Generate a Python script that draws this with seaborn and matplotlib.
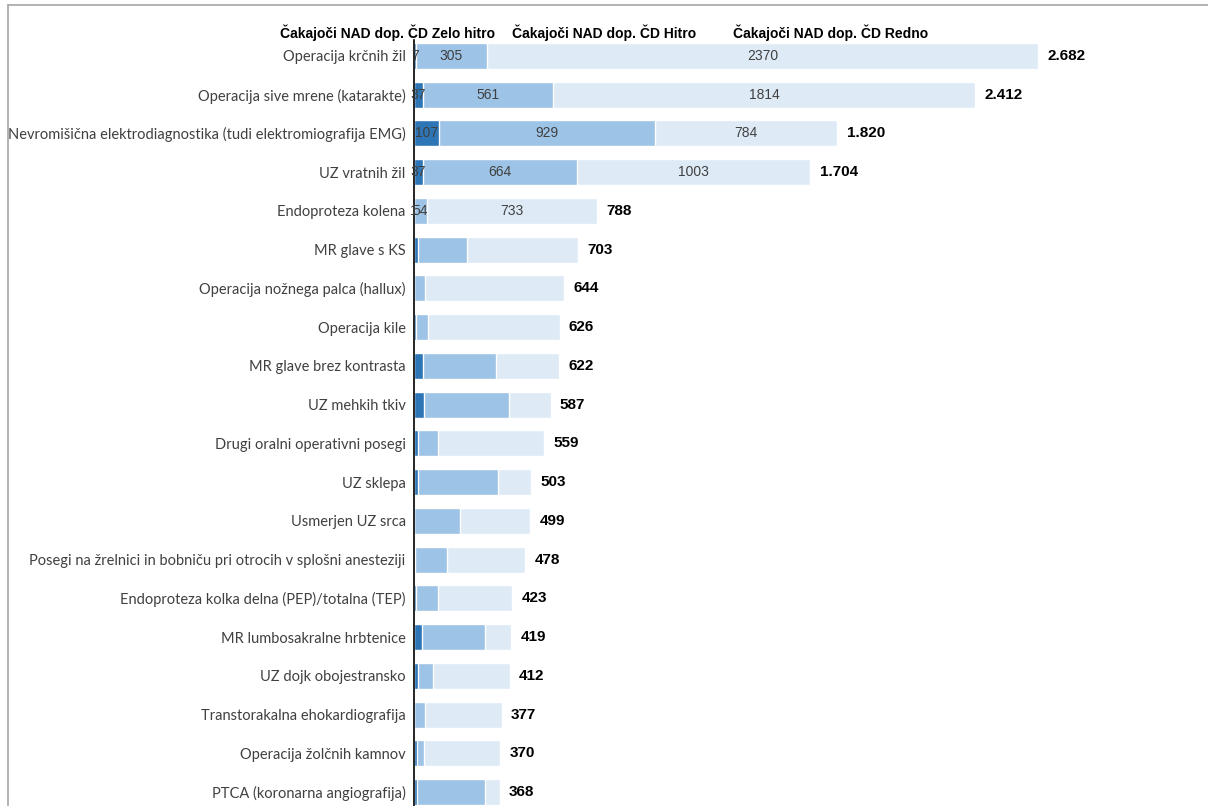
import matplotlib
matplotlib.use('Agg')
import matplotlib.pyplot as plt
from matplotlib.lines import Line2D
import numpy as np
import pandas as pd
import seaborn as sns

categories = [
    'Operacija krčnih žil',
    'Operacija sive mrene (katarakte)',
    'Nevromišična elektrodiagnostika (tudi elektromiografija EMG)',
    'UZ vratnih žil',
    'Endoproteza kolena',
    'MR glave s KS',
    'Operacija nožnega palca (hallux)',
    'Operacija kile',
    'MR glave brez kontrasta',
    'UZ mehkih tkiv',
    'Drugi oralni operativni posegi',
    'UZ sklepa',
    'Usmerjen UZ srca',
    'Posegi na žrelnici in bobniču pri otrocih v splošni anesteziji',
    'Endoproteza kolka delna (PEP)/totalna (TEP)',
    'MR lumbosakralne hrbtenice',
    'UZ dojk obojestransko',
    'Transtorakalna ehokardiografija',
    'Operacija žolčnih kamnov',
    'PTCA (koronarna angiografija)',
]
zelo_hitro = [7, 37, 107, 37, 1, 19, 2, 8, 37, 44, 17, 17, 2, 4, 8, 33, 17, 2, 11, 11]
hitro = [305, 561, 929, 664, 54, 207, 47, 52, 314, 366, 85, 345, 196, 136, 94, 271, 66, 47, 32, 293]
totals = [2682, 2412, 1820, 1704, 788, 703, 644, 626, 622, 587, 559, 503, 499, 478, 423, 419, 412, 377, 370, 368]
labelled_rows = 5

series_names = ['Čakajoči NAD dop. ČD Zelo hitro', 'Čakajoči NAD dop. ČD Hitro', 'Čakajoči NAD dop. ČD Redno']
colors = ['#2e75b6', '#9dc3e6', '#deebf7']

df = pd.DataFrame({'kat': categories, 'zelo': zelo_hitro, 'hitro': hitro, 'skupaj': totals})
df['redno'] = df['skupaj'] - df['zelo'] - df['hitro']
df['do_hitro'] = df['zelo'] + df['hitro']

sns.set_style('white')
plt.rcParams['font.family'] = ['Liberation Sans', 'DejaVu Sans']

fig = plt.figure(figsize=(12.08, 8.06), dpi=100)
ax = fig.add_axes([414 / 1208, 0, 786 / 1208, 1 - 40 / 806])

bw = 0.67
sns.barplot(data=df, x='skupaj', y='kat', color=colors[2], width=bw, saturation=1, orient='h', ax=ax)
sns.barplot(data=df, x='do_hitro', y='kat', color=colors[1], width=bw, saturation=1, orient='h', ax=ax)
sns.barplot(data=df, x='zelo', y='kat', color=colors[0], width=bw, saturation=1, orient='h', ax=ax)

ax.set_xlim(0, 3378)
ax.set_ylim(19.36, -0.41)
ax.set_xlabel('')
ax.set_ylabel('')
ax.set_xticks([])
for s in ['top', 'right', 'bottom']:
    ax.spines[s].set_visible(False)
ax.spines['left'].set_color('#000000')
ax.spines['left'].set_linewidth(1.2)
ax.tick_params(axis='y', length=0, pad=6)
for lab in ax.get_yticklabels():
    lab.set_fontfamily(['Lato', 'DejaVu Sans'])
    lab.set_fontsize(10.5)
    lab.set_color('#404040')

# segment values for the first rows
for i in range(labelled_rows):
    row = df.iloc[i]
    starts = [0, row['zelo'], row['do_hitro']]
    widths = [row['zelo'], row['hitro'], row['redno']]
    for st, w in zip(starts, widths):
        ax.text(st + w / 2, i, f'{int(w)}', ha='center', va='center',
                fontsize=10, color='#404040')

# totals
for i, t in enumerate(df['skupaj']):
    ax.text(t + 40, i, f'{t:,}'.replace(',', '.'), ha='left', va='center',
            fontsize=11, fontweight='bold', color='#000000')

# legend headings
hx = [280, 512, 733]
for name, x in zip(series_names, hx):
    fig.text(x / 1208, 1 - 33 / 806, name, ha='left', va='center', fontsize=10,
             fontweight='bold', family=['Liberation Sans Narrow', 'Liberation Sans'], color='#000000')

# frame lines
fig.add_artist(Line2D([8 / 1208, 1], [1 - 5 / 806, 1 - 5 / 806], color='#a6a6a6', lw=1.2))
fig.add_artist(Line2D([8 / 1208, 8 / 1208], [0, 1 - 5 / 806], color='#a6a6a6', lw=1.2))

fig.savefig('out.png', dpi=100)
